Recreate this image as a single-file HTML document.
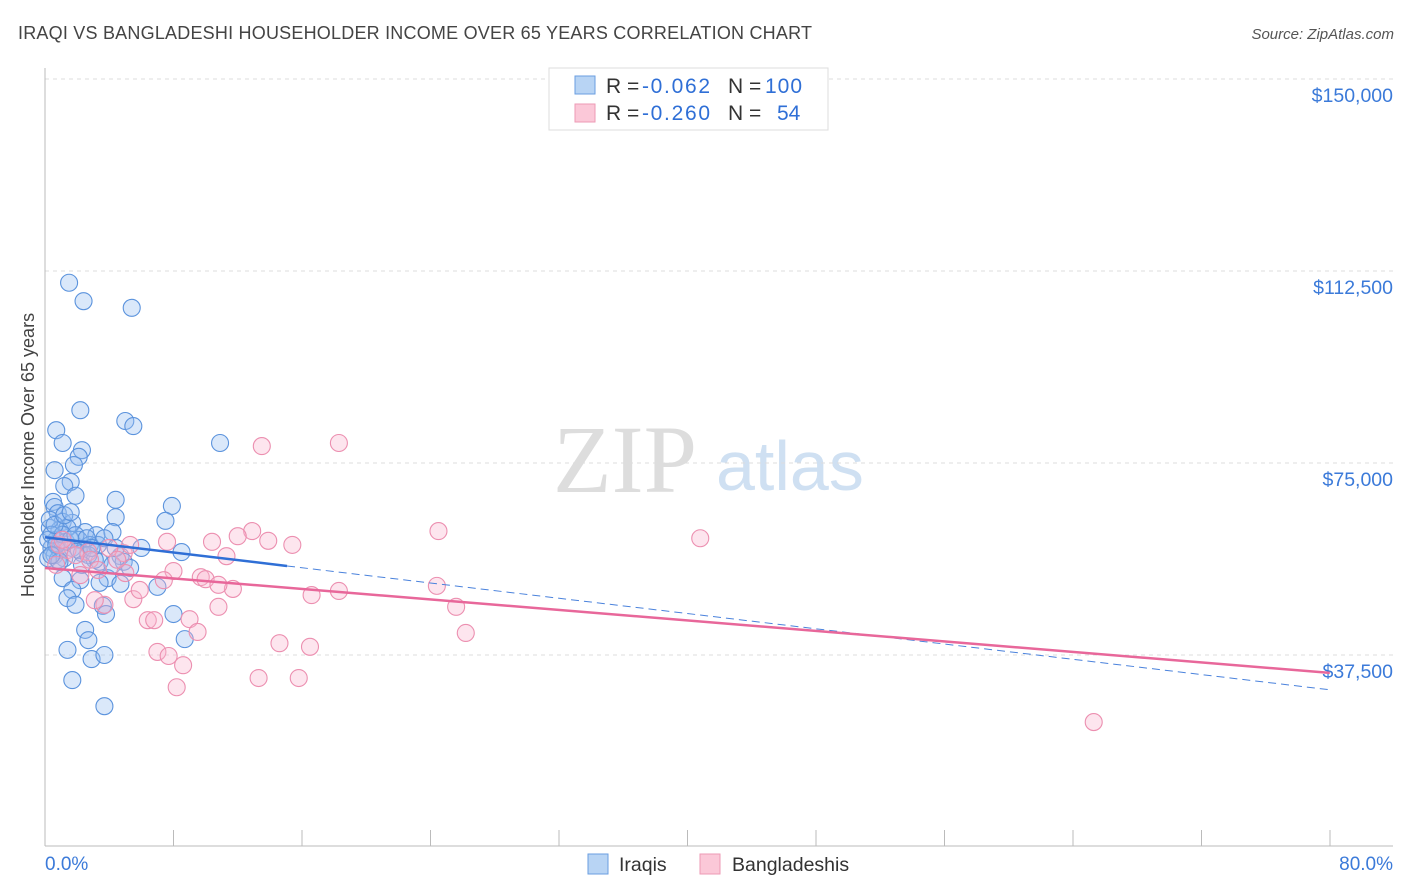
<!DOCTYPE html>
<html><head><meta charset="utf-8"><style>
body{margin:0;background:#fff;font-family:"Liberation Sans",sans-serif;}
svg{display:block}
</style></head><body>
<svg id="c" width="1406" height="892">
<text x="18" y="39" font-size="18" fill="#444" textLength="794">IRAQI VS BANGLADESHI HOUSEHOLDER INCOME OVER 65 YEARS CORRELATION CHART</text>
<text x="1394" y="39" font-size="15" fill="#555" font-style="italic" text-anchor="end">Source: ZipAtlas.com</text>
<text x="34" y="455" font-size="18" fill="#444" text-anchor="middle" transform="rotate(-90 34 455)">Householder Income Over 65 years</text>
<text x="553" y="492" font-size="96" fill="#ddd" font-family="Liberation Serif,serif">ZIP</text>
<text x="716" y="490" font-size="70" fill="#cfe0f2">atlas</text>
<g id="grid"></g><g id="pts"></g><g id="lines"></g>
<g>
<rect x="549" y="68" width="279" height="62" fill="#fff" stroke="#ddd"/>
<rect x="575" y="76" width="20" height="18" fill="#b8d4f4" stroke="#6a9ee0"/>
<rect x="575" y="104" width="20" height="18" fill="#fbc8d8" stroke="#ee9ab5"/>
<text y="93" font-size="21" fill="#333"><tspan x="606">R = </tspan><tspan x="642" fill="#2f6fd6" textLength="68">-0.062</tspan><tspan x="728">N = </tspan><tspan x="765" fill="#2f6fd6" textLength="37">100</tspan></text>
<text y="120" font-size="21" fill="#333"><tspan x="606">R = </tspan><tspan x="642" fill="#2f6fd6" textLength="68">-0.260</tspan><tspan x="728">N = </tspan><tspan x="777" fill="#2f6fd6">54</tspan></text>
</g>
<g>
<rect x="588" y="854" width="20" height="20" fill="#b8d4f4" stroke="#6a9ee0"/>
<text x="619" y="871" font-size="19.5" fill="#333">Iraqis</text>
<rect x="700" y="854" width="20" height="20" fill="#fbc8d8" stroke="#ee9ab5"/>
<text x="732" y="871" font-size="19.5" fill="#333">Bangladeshis</text>
</g>
<text x="45" y="870" font-size="19" fill="#3b7ad9">0.0%</text>
<text x="1393" y="870" font-size="19" fill="#3b7ad9" text-anchor="end">80.0%</text>
</svg>
<script>
const yTicks=[150000,112500,75000,37500];
const yTickLabels=["$150,000","$112,500","$75,000","$37,500"];
const blueX=[1.5,2.4,5.4,2.2,5.0,5.5,0.7,1.1,10.9,2.3,2.1,1.8,0.6,1.6,1.2,1.9,4.4,7.9,4.4,7.5,0.5,0.6,0.8,1.1,1.7,0.3,0.9,1.4,2.5,3.2,4.2,0.7,1.3,2.1,2.8,0.4,0.9,1.7,3.3,6.0,0.6,1.2,2.3,4.7,8.5,0.8,3.4,4.9,1.1,2.2,3.9,4.7,3.4,7.0,1.7,1.4,1.9,3.6,3.8,8.0,2.5,2.7,8.7,1.4,2.9,3.7,1.7,3.7,0.2,0.2,0.3,0.4,0.7,1.1,1.6,2.1,2.7,3.1,4.2,5.3,3.7,0.9,0.6,1.2,1.6,2.3,0.4,1.9,2.6,2.9,4.4];
const blueY=[110.2,106.6,105.3,85.3,83.2,82.2,81.4,78.9,78.9,77.5,76.2,74.6,73.6,71.3,70.5,68.6,67.8,66.6,64.4,63.7,67.4,66.4,65.2,63.5,63.3,62.3,61.9,62.3,61.5,60.9,61.5,60.0,59.6,60.0,59.0,58.4,58.0,58.4,59.0,58.4,57.0,56.4,57.4,56.8,57.6,56.1,55.7,55.7,52.5,52.1,52.5,51.4,51.6,50.8,50.2,48.6,47.3,47.1,45.5,45.5,42.4,40.4,40.6,38.5,36.7,37.5,32.6,27.5,56.4,60.0,63.9,61.0,59.0,61.0,60.0,58.0,57.0,56.1,55.1,54.5,60.3,55.7,62.9,64.8,65.4,55.1,57.0,60.9,60.3,58.4,58.4];
const pinkX=[18.3,13.5,24.5,40.8,12.9,12.0,10.4,13.9,15.4,7.6,11.3,8.0,4.9,5.0,7.4,9.7,10.0,11.7,10.8,16.6,18.3,24.4,25.6,10.8,5.5,3.7,6.4,6.8,9.0,9.5,26.2,14.6,16.5,7.0,7.7,8.6,8.2,13.3,15.8,65.3,0.9,1.4,2.7,2.8,3.3,4.0,1.9,0.7,1.1,4.5,5.3,2.2,3.1,5.9];
const pinkY=[78.9,78.3,61.7,60.3,61.7,60.7,59.6,59.8,59.0,59.6,56.8,53.9,57.4,53.5,52.1,52.7,52.3,50.4,51.2,49.2,50.0,51.0,46.9,46.9,48.4,47.3,44.3,44.3,44.5,42.0,41.8,39.8,39.1,38.1,37.3,35.5,31.2,33.0,33.0,24.4,59.0,58.0,57.6,56.1,54.1,58.4,57.0,55.1,60.0,56.1,59.0,53.1,48.2,50.2];
const blueFit=[60.5,30.7], pinkFit=[54.5,34.0], blueSolidEnd=15.07;
const X=v=>45+v*16.06, Y=v=>847-v/0.1953;
const ns="http://www.w3.org/2000/svg";
function mk(t,a,p){const e=document.createElementNS(ns,t);for(const k in a)e.setAttribute(k,a[k]);p.appendChild(e);return e;}
const g=document.getElementById('grid');
yTicks.forEach((t,i)=>{const y=Y(t/1000);
const l=mk('line',{x1:45,x2:1393,y1:y,y2:y,stroke:'#ddd','stroke-dasharray':'4 4'},g);


const tx=mk('text',{x:1393,y:y+23,'font-size':19.5,fill:'#3b7ad9','text-anchor':'end'},g);tx.textContent=yTickLabels[i];

});
mk('line',{x1:45,x2:45,y1:68,y2:846,stroke:'#bbb'},g);
mk('line',{x1:45,x2:1393,y1:846,y2:846,stroke:'#bbb'},g);
for(let i=1;i<=10;i++){const x=45+i*128.5;const t=mk('line',{x1:x,x2:x,y1:830,y2:846,stroke:'#bbb'},g);

}
const p=document.getElementById('pts');
blueX.forEach((x,i)=>{const c=mk('circle',{cx:X(x),cy:Y(blueY[i]),r:8.5,fill:'rgba(150,190,240,0.35)',stroke:'#5b93dd','stroke-width':1.1},p);

});
pinkX.forEach((x,i)=>{const c=mk('circle',{cx:X(x),cy:Y(pinkY[i]),r:8.5,fill:'rgba(250,180,205,0.35)',stroke:'#ec8fb0','stroke-width':1.1},p);

});
const L=document.getElementById('lines');
const bAt=x=>blueFit[0]+(blueFit[1]-blueFit[0])*x/80;
const l1=mk('line',{x1:X(0),y1:Y(bAt(0)),x2:X(blueSolidEnd),y2:Y(bAt(blueSolidEnd)),stroke:'#2f6fd6','stroke-width':2.5},L);


const l2=mk('line',{x1:X(blueSolidEnd),y1:Y(bAt(blueSolidEnd)),x2:X(80),y2:Y(bAt(80)),stroke:'#4a82dc','stroke-width':1,'stroke-dasharray':'8 5'},L);


const l3=mk('line',{x1:X(0),y1:Y(pinkFit[0]),x2:X(80),y2:Y(pinkFit[1]),stroke:'#e8679a','stroke-width':2.5},L);


</script>
</body></html>
